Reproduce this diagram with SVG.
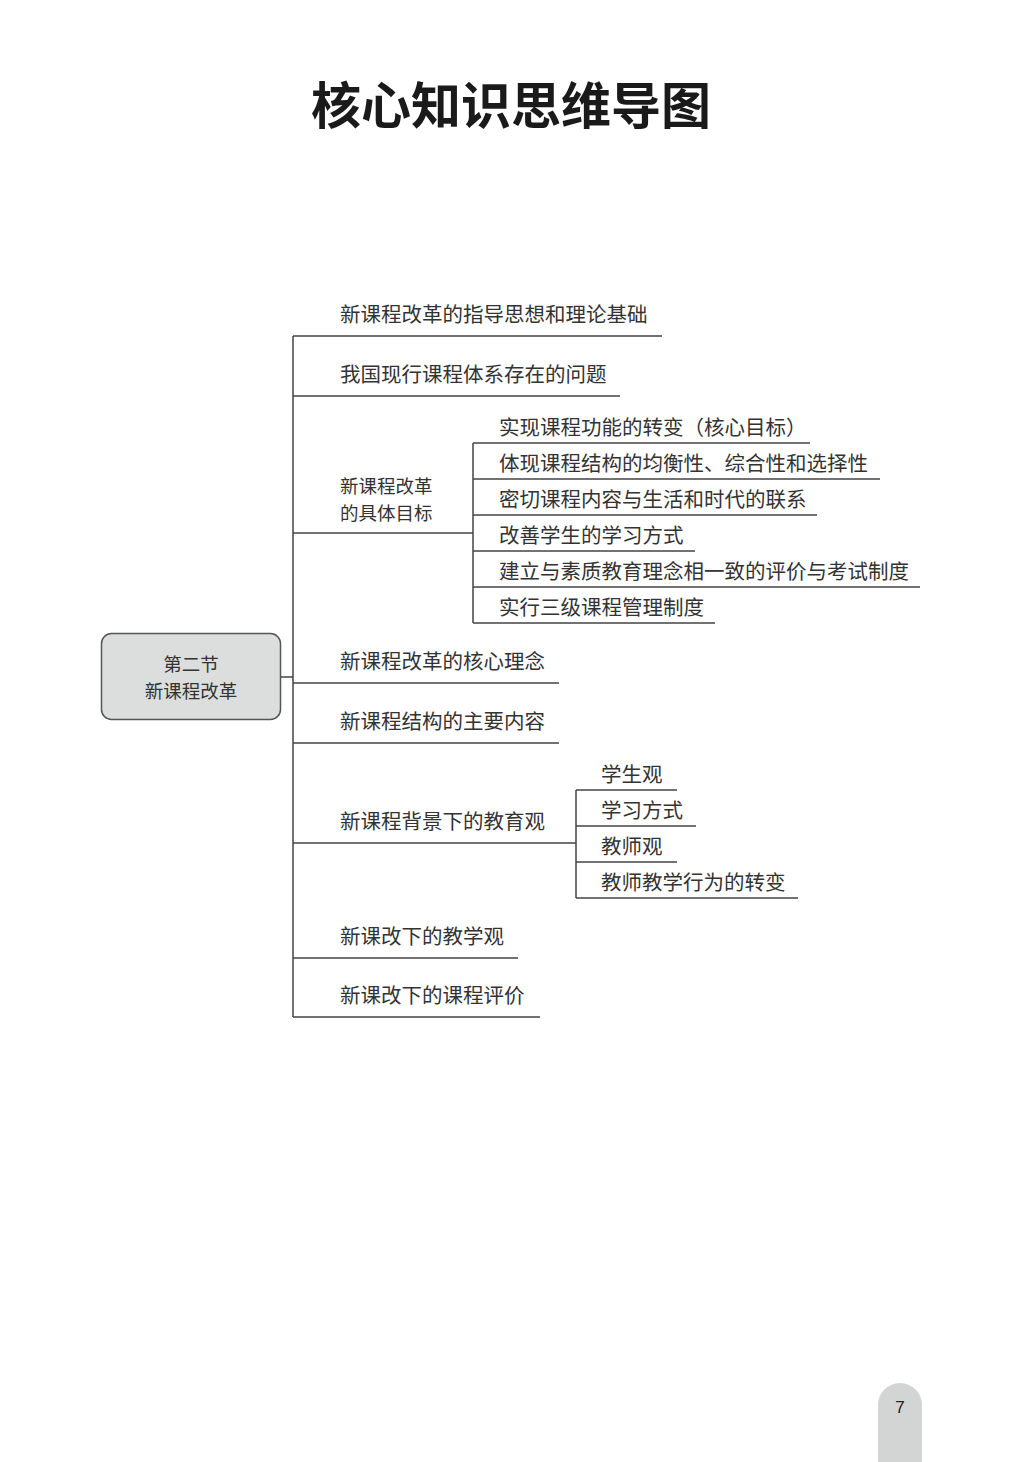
<svg xmlns="http://www.w3.org/2000/svg" width="1034" height="1462" viewBox="0 0 1034 1462">
<style>
.t{font-family:"Noto Sans CJK SC","Noto Sans",sans-serif;font-size:20.5px;fill:#333;dominant-baseline:central}
.t2{font-size:18.5px}
.ln{stroke:#444;stroke-width:1.5;fill:none}
</style>
<rect x="0" y="0" width="1034" height="1462" fill="#fff"/>
<text x="511" y="102" text-anchor="middle" style="font-family:'Noto Sans CJK SC',sans-serif;font-size:50px;font-weight:bold;fill:#1a1a1a;dominant-baseline:central">核心知识思维导图</text>

<g id="connectors">
<path class="ln" d="M281 677H293M293 336V1017"/>
<path class="ln" d="M293 336H662M293 396H620M293 533H473M293 683H559M293 743H559M293 843H576M293 958H518M293 1017H540"/>
<path class="ln" d="M473 443V623M473 443H810M473 479H880M473 515H817M473 551H695M473 587H920M473 623H715"/>
<path class="ln" d="M576 790V898M576 790H677M576 826H696M576 862H677M576 898H798"/>
</g>

<g id="root">
<rect x="101.5" y="633.5" width="179" height="86" rx="10" fill="#dcdddd" stroke="#555" stroke-width="1.5"/>
<text class="t t2" x="191" y="663" text-anchor="middle">第二节</text>
<text class="t t2" x="191" y="690" text-anchor="middle">新课程改革</text>
</g>

<g id="n1"><text class="t" x="340" y="313">新课程改革的指导思想和理论基础</text></g>
<g id="n2"><text class="t" x="340" y="373">我国现行课程体系存在的问题</text></g>
<g id="n3"><text class="t t2" x="340" y="485">新课程改革</text><text class="t t2" x="340" y="512">的具体目标</text></g>
<g id="n3a"><text class="t" x="499" y="426">实现课程功能的转变（核心目标）</text></g>
<g id="n3b"><text class="t" x="499" y="462">体现课程结构的均衡性、综合性和选择性</text></g>
<g id="n3c"><text class="t" x="499" y="498">密切课程内容与生活和时代的联系</text></g>
<g id="n3d"><text class="t" x="499" y="534">改善学生的学习方式</text></g>
<g id="n3e"><text class="t" x="499" y="570">建立与素质教育理念相一致的评价与考试制度</text></g>
<g id="n3f"><text class="t" x="499" y="606">实行三级课程管理制度</text></g>
<g id="n4"><text class="t" x="340" y="660">新课程改革的核心理念</text></g>
<g id="n5"><text class="t" x="340" y="720">新课程结构的主要内容</text></g>
<g id="n6"><text class="t" x="340" y="820">新课程背景下的教育观</text></g>
<g id="n6a"><text class="t" x="601" y="773">学生观</text></g>
<g id="n6b"><text class="t" x="601" y="809">学习方式</text></g>
<g id="n6c"><text class="t" x="601" y="845">教师观</text></g>
<g id="n6d"><text class="t" x="601" y="881">教师教学行为的转变</text></g>
<g id="n7"><text class="t" x="340" y="935">新课改下的教学观</text></g>
<g id="n8"><text class="t" x="340" y="994">新课改下的课程评价</text></g>

<g id="page">
<path d="M878 1462V1405a22 22 0 0 1 44 0V1462Z" fill="#d3d4d4"/>
<text x="900" y="1407" text-anchor="middle" style="font-family:'Liberation Sans',sans-serif;font-size:17px;fill:#222;dominant-baseline:central">7</text>
</g>
</svg>
